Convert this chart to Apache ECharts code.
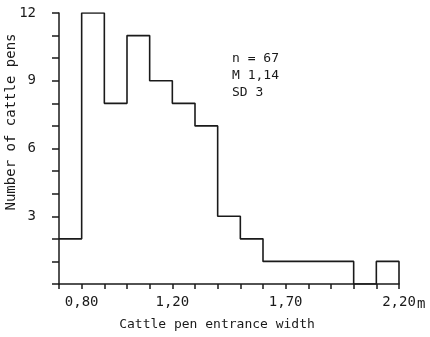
<!DOCTYPE html>
<html>
<head>
<meta charset="utf-8">
<script src="https://cdn.jsdelivr.net/npm/echarts@6/dist/echarts.min.js"></script>
<style>
  html, body { margin: 0; padding: 0; background: #fff; }
  #chart { width: 430px; height: 337px; }
</style>
</head>
<body>
<div id="chart"></div>
<script>
// bin start (m), bins are 0.10 m wide
var binStarts = [0.7, 0.8, 0.9, 1.0, 1.1, 1.2, 1.3, 1.4, 1.5, 1.6, 1.7, 1.8, 1.9, 2.0, 2.1];
var counts = [2, 12, 8, 11, 9, 8, 7, 3, 2, 1, 1, 1, 1, 0, 1];
var binEnd = 2.2;
var xLabels = ['0,80', '1,20', '1,70', '2,20'];
var xLabelValues = [0.8, 1.2, 1.7, 2.2];
var yLabelValues = [3, 6, 9, 12];
var statsLines = ['n = 67', 'M 1,14', 'SD 3'];

var font = 'DejaVu Sans Mono';
var ink = '#1a1a1a';

var stepData = binStarts.map(function (x, i) { return [x, counts[i]]; });
stepData.push([binEnd, 0]);

var dom = document.getElementById('chart');
var myChart = echarts.init(dom);
var option = {
    backgroundColor: '#fff',
    animation: false,
    grid: {
        left: 59,
        right: 31,
        top: 13,
        bottom: 53,
        containLabel: false,
        outerBoundsMode: 'none'
    },
    xAxis: {
        type: 'value',
        min: 0.7,
        max: 2.2,
        interval: 0.1,
        axisLine: { lineStyle: { color: ink, width: 1.5 } },
        axisTick: { length: 5, lineStyle: { color: ink, width: 1.5 } },
        splitLine: { show: false },
        axisLabel: {
            margin: 11,
            fontFamily: font,
            fontSize: 14,
            color: ink,
            formatter: function (v) {
                for (var i = 0; i < xLabelValues.length; i++) {
                    if (Math.abs(v - xLabelValues[i]) < 1e-6) return xLabels[i];
                }
                return '';
            }
        }
    },
    yAxis: {
        type: 'value',
        min: 0,
        max: 12,
        interval: 1,
        axisLine: { show: true, lineStyle: { color: ink, width: 1.5 } },
        axisTick: { show: true, length: 7, lineStyle: { color: ink, width: 1.5 } },
        splitLine: { show: false },
        axisLabel: {
            margin: 23,
            fontFamily: font,
            fontSize: 14,
            color: ink,
            formatter: function (v) {
                return yLabelValues.indexOf(v) >= 0 ? String(v) : '';
            }
        }
    },
    graphic: [
        {
            type: 'text',
            x: 11,
            y: 122,
            rotation: Math.PI / 2,
            style: {
                text: 'Number of cattle pens',
                fontFamily: font,
                fontSize: 14,
                fill: ink,
                align: 'center',
                verticalAlign: 'middle'
            }
        },
        {
            type: 'text',
            x: 217,
            y: 325,
            style: {
                text: 'Cattle pen entrance width',
                fontFamily: font,
                fontSize: 13,
                fill: ink,
                align: 'center',
                verticalAlign: 'middle'
            }
        },
        {
            type: 'text',
            left: 232,
            top: 50,
            style: {
                text: statsLines.join('\n'),
                fontFamily: font,
                fontSize: 13,
                lineHeight: 17,
                fill: ink
            }
        },
        {
            type: 'text',
            x: 417,
            y: 304,
            style: {
                text: 'm',
                fontFamily: font,
                fontSize: 14,
                fill: ink,
                verticalAlign: 'middle'
            }
        }
    ],
    series: [
        {
            type: 'line',
            step: 'end',
            data: stepData,
            symbol: 'none',
            lineStyle: { color: ink, width: 1.6 }
        }
    ]
};
myChart.setOption(option, true);
window.onresize = myChart.resize;
</script>
</body>
</html>
